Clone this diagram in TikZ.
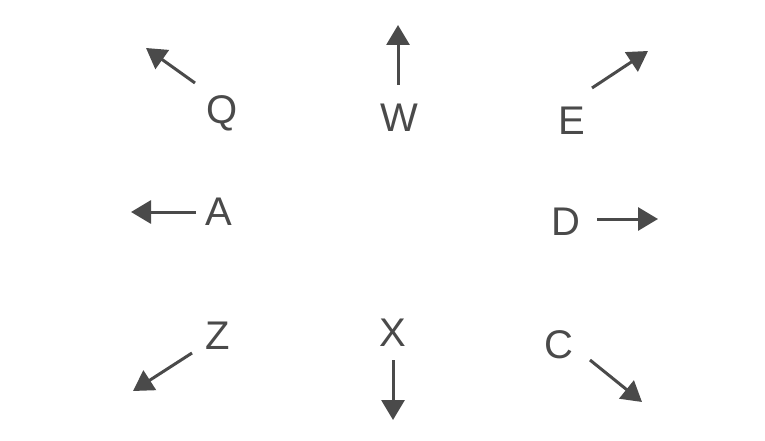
\documentclass[tikz,border=0pt]{standalone}
\usepackage{fontspec}
\setmainfont{Liberation Sans}
\usetikzlibrary{arrows.meta}
\definecolor{ink}{HTML}{4a4a4a}
\tikzset{
  key/.style={text=ink, font=\fontsize{40}{40}\selectfont, inner sep=0pt},
  arr/.style={draw=ink, line width=3pt, -{Triangle[length=20pt,width=23pt]}}
}
\begin{document}
\begin{tikzpicture}[x=1pt,y=-1pt]
\useasboundingbox (0,0) rectangle (765,441);
% letters
\node[key] (Q) at (222,113) {Q};
\node[key] (W) at (399,118) {W};
\node[key] (E) at (572,121) {E};
\node[key] (A) at (219,212) {A};
\node[key] (D) at (566,222) {D};
\node[key] (Z) at (218,336) {Z};
\node[key] (X) at (393,333) {X};
\node[key] (C) at (559,345) {C};
% arrow ends
\coordinate (q1) at (195,83);  \coordinate (q2) at (146,48);
\coordinate (w1) at (398,85);  \coordinate (w2) at (398,25);
\coordinate (e1) at (592,88);  \coordinate (e2) at (648,51);
\coordinate (a1) at (196,212); \coordinate (a2) at (131,212);
\coordinate (d1) at (597,219); \coordinate (d2) at (658,219);
\coordinate (z1) at (192,353); \coordinate (z2) at (133,391);
\coordinate (x1) at (393,360); \coordinate (x2) at (393,420);
\coordinate (c1) at (590,360); \coordinate (c2) at (642,402);
\draw[arr] (q1) -- (q2);
\draw[arr] (w1) -- (w2);
\draw[arr] (e1) -- (e2);
\draw[arr] (a1) -- (a2);
\draw[arr] (d1) -- (d2);
\draw[arr] (z1) -- (z2);
\draw[arr] (x1) -- (x2);
\draw[arr] (c1) -- (c2);
\end{tikzpicture}
\end{document}
